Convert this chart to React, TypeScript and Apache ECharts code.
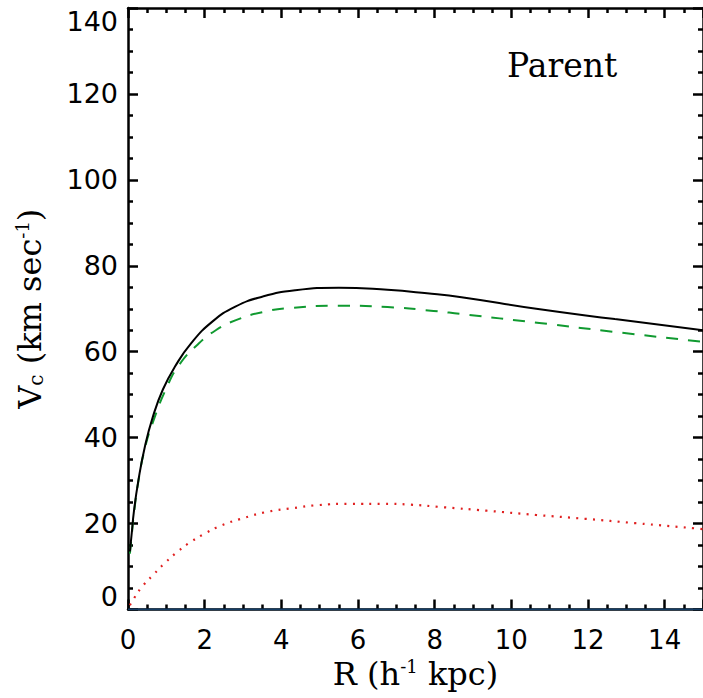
import React, { useEffect, useRef } from "react";
import * as echarts from "echarts";

// Total circular velocity (black solid)
const totalR = [0.05, 0.1, 0.15, 0.27, 0.44, 0.65, 0.91, 1.23, 1.65, 2.2, 2.8, 3.5, 4.36, 5.5, 6.77, 7.8, 8.7, 10.65, 12.7, 15];
const totalV = [13.5, 18, 22.5, 30, 37.9, 44.9, 51.2, 56.6, 62.0, 67.0, 70.5, 72.8, 74.3, 74.9, 74.4, 73.6, 72.7, 70.0, 67.6, 65.0];

// Dark matter (green dashed)
const darkR = [0.05, 0.1, 0.15, 0.27, 0.44, 0.65, 1.0, 1.34, 1.82, 2.29, 2.8, 3.5, 4.27, 5.48, 6.77, 7.97, 8.66, 10.73, 12.89, 15];
const darkV = [13, 17.5, 22, 29.8, 37.5, 43.6, 51.5, 57.0, 61.7, 65.0, 67.3, 69.2, 70.2, 70.7, 70.4, 69.5, 68.8, 66.7, 64.4, 62.3];

// Baryons (red dotted)
const starR = [0.05, 0.1, 0.35, 0.65, 0.97, 1.3, 1.65, 2.03, 2.42, 3.02, 3.67, 4.31, 4.96, 5.82, 6.68, 7.37, 8.23, 9.35, 10.65, 11.94, 13.23, 14.78, 15];
const starV = [1.0, 1.8, 5.1, 8.0, 10.9, 13.5, 15.8, 17.8, 19.5, 21.3, 22.8, 23.6, 24.3, 24.6, 24.6, 24.4, 23.8, 23.0, 22.0, 21.1, 20.1, 18.9, 18.7];

// Zero component (dark blue, along the axis)
const zeroR = [0, 15];
const zeroV = [0, 0];

const xTicks = [0, 2, 4, 6, 8, 10, 12, 14];
const yTicks = [0, 20, 40, 60, 80, 100, 120, 140];

const panelLabel = "Parent";

const zip = (a: number[], b: number[]) => a.map((v, i) => [v, b[i]]);

export default function App() {
  const ref = useRef<HTMLDivElement>(null);
  useEffect(() => {
    if (!ref.current) return;
    const chart = echarts.init(ref.current, null, { renderer: "svg" });
    const axisLine = { show: true, onZero: false, lineStyle: { color: "#000", width: 2.5 } };
    const tick = { show: true, inside: true, length: 10, lineStyle: { color: "#000", width: 2.5 } };
    const minor = { show: true, splitNumber: 4, length: 5, lineStyle: { color: "#000", width: 2.5 } };
    const xCommon = {
      type: "value",
      min: xTicks[0],
      max: 15,
      interval: xTicks[1] - xTicks[0],
      axisLine,
      axisTick: tick,
      minorTick: minor,
      splitLine: { show: false },
    };
    const yCommon = {
      type: "value",
      min: yTicks[0],
      max: yTicks[yTicks.length - 1],
      interval: yTicks[1] - yTicks[0],
      axisLine,
      axisTick: tick,
      minorTick: minor,
      splitLine: { show: false },
    };
    const serif = "DejaVu Serif";
    chart.setOption({
      animation: false,
      backgroundColor: "#fff",
      title: {
        text: panelLabel,
        left: 502,
        top: 44,
        textStyle: { fontFamily: serif, fontSize: 33, fontWeight: "normal", color: "#000" },
      },
      grid: { left: 128, top: 8, right: -5, bottom: 88.5 },
      xAxis: [
        {
          ...xCommon,
          position: "bottom",
          axisLabel: {
            show: true,
            margin: 17,
            fontFamily: "DejaVu Sans",
            fontSize: 26,
            color: "#000",
            showMaxLabel: false,
          },
          name: "R (h{sup|-1} kpc)",
          nameLocation: "middle",
          nameGap: 48,
          nameTextStyle: {
            fontFamily: serif,
            fontSize: 32,
            color: "#000",
            rich: {
              sup: { fontFamily: serif, fontSize: 18, color: "#000", verticalAlign: "top", padding: [0, 0, 13, 0] },
            },
          },
        },
        {
          ...xCommon,
          position: "top",
          axisLabel: { show: false },
        },
      ],
      yAxis: [
        {
          ...yCommon,
          position: "left",
          axisLabel: {
            show: true,
            margin: 10,
            fontFamily: "DejaVu Sans",
            fontSize: 27,
            color: "#000",
            verticalAlignMinLabel: "bottom",
            verticalAlignMaxLabel: "top",
          },
          name: "V{sub|c} (km sec{sup|-1})",
          nameLocation: "middle",
          nameGap: 82,
          nameTextStyle: {
            fontFamily: serif,
            fontSize: 32,
            color: "#000",
            rich: {
              sup: { fontFamily: serif, fontSize: 18, color: "#000", verticalAlign: "top", padding: [0, 0, 13, 0] },
              sub: { fontFamily: serif, fontSize: 20, color: "#000", verticalAlign: "bottom", padding: [13, 0, 0, 0] },
            },
          },
        },
        {
          ...yCommon,
          position: "right",
          axisLabel: { show: false },
        },
      ],
      series: [
        {
          type: "line",
          data: zip(zeroR, zeroV),
          showSymbol: false,
          lineStyle: { color: "#143c64", width: 2 },
          z: 1,
        },
        {
          type: "line",
          data: zip(starR, starV),
          showSymbol: false,
          smooth: true,
          lineStyle: { color: "#e02020", width: 2.2, type: [2, 6.3] },
        },
        {
          type: "line",
          data: zip(darkR, darkV),
          showSymbol: false,
          smooth: true,
          lineStyle: { color: "#109a30", width: 2, type: [12, 10] },
        },
        {
          type: "line",
          data: zip(totalR, totalV),
          showSymbol: false,
          smooth: true,
          lineStyle: { color: "#000", width: 2 },
        },
      ],
    });
    return () => chart.dispose();
  }, []);
  return (
    <div
      ref={ref}
      style={{ position: "absolute", left: 0, top: 0, width: 703, height: 698, overflow: "hidden" }}
    />
  );
}
